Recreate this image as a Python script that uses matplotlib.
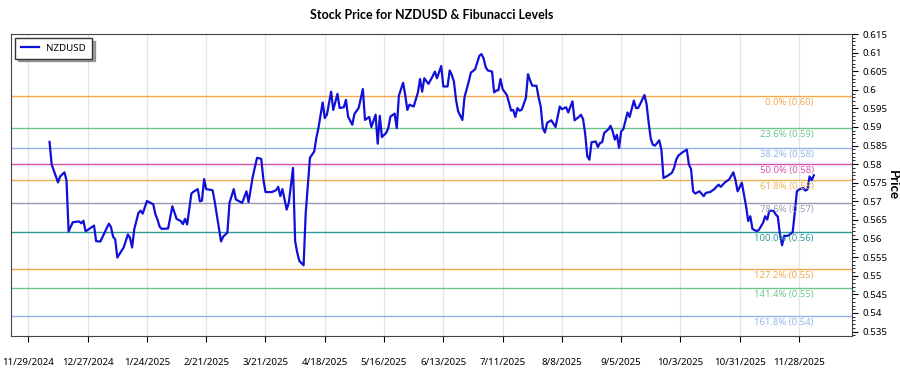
import matplotlib
matplotlib.use("Agg")
import matplotlib.pyplot as plt
from matplotlib.ticker import MultipleLocator, FormatStrFormatter
import pandas as pd

plt.rcParams["font.family"] = "Noto Sans"

# ── data ────────────────────────────────────────────────────
dates = [
    "2024-12-09", "2024-12-10", "2024-12-13", "2024-12-14", "2024-12-16", "2024-12-17",
    "2024-12-18", "2024-12-19", "2024-12-20", "2024-12-23", "2024-12-24", "2024-12-25",
    "2024-12-26", "2024-12-27", "2024-12-30", "2024-12-31", "2025-01-02", "2025-01-06",
    "2025-01-07", "2025-01-08", "2025-01-09", "2025-01-10", "2025-01-13", "2025-01-15",
    "2025-01-16", "2025-01-17", "2025-01-18", "2025-01-20", "2025-01-21", "2025-01-22",
    "2025-01-24", "2025-01-25", "2025-01-27", "2025-01-28", "2025-01-29", "2025-01-30",
    "2025-01-31", "2025-02-03", "2025-02-05", "2025-02-07", "2025-02-09", "2025-02-10",
    "2025-02-11", "2025-02-12", "2025-02-14", "2025-02-15", "2025-02-17", "2025-02-18",
    "2025-02-19", "2025-02-20", "2025-02-21", "2025-02-24", "2025-02-25", "2025-02-28",
    "2025-03-01", "2025-03-03", "2025-03-04", "2025-03-06", "2025-03-07", "2025-03-10",
    "2025-03-12", "2025-03-13", "2025-03-15", "2025-03-17", "2025-03-18", "2025-03-19",
    "2025-03-20", "2025-03-21", "2025-03-24", "2025-03-26", "2025-03-27", "2025-03-28",
    "2025-03-29", "2025-03-30", "2025-03-31", "2025-04-01", "2025-04-03", "2025-04-04",
    "2025-04-05", "2025-04-06", "2025-04-08", "2025-04-09", "2025-04-11", "2025-04-13",
    "2025-04-14", "2025-04-15", "2025-04-17", "2025-04-18", "2025-04-19", "2025-04-21",
    "2025-04-22", "2025-04-24", "2025-04-25", "2025-04-27", "2025-04-28", "2025-04-29",
    "2025-05-01", "2025-05-02", "2025-05-04", "2025-05-06", "2025-05-07", "2025-05-09",
    "2025-05-10", "2025-05-12", "2025-05-13", "2025-05-14", "2025-05-15", "2025-05-17",
    "2025-05-18", "2025-05-19", "2025-05-21", "2025-05-22", "2025-05-23", "2025-05-25",
    "2025-05-26", "2025-05-27", "2025-05-28", "2025-05-30", "2025-06-01", "2025-06-02",
    "2025-06-03", "2025-06-04", "2025-06-06", "2025-06-08", "2025-06-09", "2025-06-10",
    "2025-06-12", "2025-06-13", "2025-06-15", "2025-06-16", "2025-06-17", "2025-06-18",
    "2025-06-19", "2025-06-20", "2025-06-22", "2025-06-23", "2025-06-25", "2025-06-26",
    "2025-06-28", "2025-06-30", "2025-07-01", "2025-07-02", "2025-07-03", "2025-07-04",
    "2025-07-06", "2025-07-07", "2025-07-08", "2025-07-09", "2025-07-10", "2025-07-11",
    "2025-07-13", "2025-07-14", "2025-07-15", "2025-07-16", "2025-07-17", "2025-07-18",
    "2025-07-19", "2025-07-20", "2025-07-22", "2025-07-23", "2025-07-24", "2025-07-25",
    "2025-07-27", "2025-07-28", "2025-07-29", "2025-07-30", "2025-07-31", "2025-08-01",
    "2025-08-03", "2025-08-05", "2025-08-07", "2025-08-08", "2025-08-10", "2025-08-11",
    "2025-08-13", "2025-08-14", "2025-08-16", "2025-08-17", "2025-08-18", "2025-08-19",
    "2025-08-20", "2025-08-21", "2025-08-22", "2025-08-24", "2025-08-25", "2025-08-26",
    "2025-08-27", "2025-08-28", "2025-08-30", "2025-08-31", "2025-09-01", "2025-09-02",
    "2025-09-03", "2025-09-04", "2025-09-05", "2025-09-06", "2025-09-08", "2025-09-09",
    "2025-09-11", "2025-09-12", "2025-09-13", "2025-09-14", "2025-09-16", "2025-09-17",
    "2025-09-18", "2025-09-19", "2025-09-20", "2025-09-21", "2025-09-23", "2025-09-24",
    "2025-09-25", "2025-09-27", "2025-09-29", "2025-09-30", "2025-10-01", "2025-10-02",
    "2025-10-04", "2025-10-06", "2025-10-07", "2025-10-08", "2025-10-09", "2025-10-10",
    "2025-10-12", "2025-10-14", "2025-10-15", "2025-10-17", "2025-10-19", "2025-10-21",
    "2025-10-22", "2025-10-24", "2025-10-26", "2025-10-28", "2025-10-29", "2025-10-30",
    "2025-11-01", "2025-11-02", "2025-11-03", "2025-11-04", "2025-11-05", "2025-11-06",
    "2025-11-08", "2025-11-09", "2025-11-11", "2025-11-12", "2025-11-13", "2025-11-14",
    "2025-11-16", "2025-11-17", "2025-11-18", "2025-11-19", "2025-11-20", "2025-11-21",
    "2025-11-22", "2025-11-23", "2025-11-25", "2025-11-26", "2025-11-27", "2025-11-28",
    "2025-11-30", "2025-12-01", "2025-12-02", "2025-12-03", "2025-12-04", "2025-12-05",
]
prices = [
    0.5860, 0.5799, 0.5751, 0.5767, 0.5778, 0.5757,
    0.5619, 0.5632, 0.5644, 0.5646, 0.5641, 0.5648,
    0.5620, 0.5623, 0.5635, 0.5593, 0.5592, 0.5640,
    0.5631, 0.5605, 0.5598, 0.5549, 0.5576, 0.5611,
    0.5602, 0.5576, 0.5625, 0.5669, 0.5675, 0.5667,
    0.5701, 0.5698, 0.5692, 0.5665, 0.5651, 0.5632,
    0.5626, 0.5627, 0.5687, 0.5653, 0.5647, 0.5639,
    0.5653, 0.5638, 0.5721, 0.5726, 0.5733, 0.5700,
    0.5702, 0.5760, 0.5733, 0.5730, 0.5700, 0.5592,
    0.5605, 0.5616, 0.5696, 0.5733, 0.5705, 0.5696,
    0.5727, 0.5698, 0.5767, 0.5817, 0.5816, 0.5814,
    0.5759, 0.5725, 0.5725, 0.5730, 0.5739, 0.5714,
    0.5733, 0.5705, 0.5678, 0.5696, 0.5790, 0.5593,
    0.5562, 0.5540, 0.5528, 0.5669, 0.5817, 0.5834,
    0.5870, 0.5897, 0.5966, 0.5924, 0.5933, 0.5995,
    0.5946, 0.5989, 0.5951, 0.5953, 0.5973, 0.5928,
    0.5906, 0.5935, 0.5951, 0.6002, 0.5919, 0.5927,
    0.5900, 0.5933, 0.5855, 0.5930, 0.5873, 0.5884,
    0.5897, 0.5928, 0.5936, 0.5897, 0.5984, 0.6019,
    0.5986, 0.5946, 0.5960, 0.5955, 0.5993, 0.6029,
    0.5995, 0.6031, 0.6016, 0.6037, 0.6049, 0.6031,
    0.6064, 0.6009, 0.6009, 0.6052, 0.6040, 0.6022,
    0.5973, 0.5942, 0.5919, 0.5980, 0.6022, 0.6046,
    0.6055, 0.6091, 0.6096, 0.6085, 0.6061, 0.6052,
    0.6049, 0.5993, 0.5998, 0.5999, 0.6029, 0.6002,
    0.5986, 0.5966, 0.5944, 0.5946, 0.5927, 0.5951,
    0.5944, 0.5946, 0.5978, 0.6042, 0.6025, 0.6011,
    0.6011, 0.5980, 0.5955, 0.5897, 0.5885, 0.5911,
    0.5918, 0.5900, 0.5955, 0.5948, 0.5953, 0.5939,
    0.5969, 0.5918, 0.5927, 0.5933, 0.5921, 0.5882,
    0.5821, 0.5812, 0.5859, 0.5861, 0.5846, 0.5857,
    0.5859, 0.5884, 0.5894, 0.5903, 0.5888, 0.5866,
    0.5879, 0.5844, 0.5888, 0.5894, 0.5939, 0.5927,
    0.5971, 0.5951, 0.5951, 0.5962, 0.5986, 0.5962,
    0.5911, 0.5868, 0.5852, 0.5850, 0.5864, 0.5839,
    0.5763, 0.5769, 0.5777, 0.5790, 0.5812, 0.5823,
    0.5832, 0.5839, 0.5799, 0.5787, 0.5727, 0.5721,
    0.5727, 0.5714, 0.5723, 0.5725, 0.5733, 0.5745,
    0.5739, 0.5751, 0.5759, 0.5778, 0.5757, 0.5727,
    0.5750, 0.5718, 0.5687, 0.5647, 0.5660, 0.5626,
    0.5620, 0.5623, 0.5642, 0.5660, 0.5651, 0.5675,
    0.5674, 0.5665, 0.5659, 0.5611, 0.5582, 0.5607,
    0.5607, 0.5608, 0.5617, 0.5669, 0.5727, 0.5732,
    0.5736, 0.5729, 0.5732, 0.5767, 0.5757, 0.5770,
]

fib_high = 0.5983
fib_low = 0.5618
fib_ratios = [0.0, 0.236, 0.382, 0.5, 0.618, 0.786, 1.0, 1.272, 1.414, 1.618]
fib_colors = ["#f5a64a", "#6cc48c", "#8fb4ec", "#d64fb0", "#e8b04e",
              "#9a98b0", "#2a9a9a", "#f5a64a", "#6cc48c", "#8fb4ec"]

tick_labels = ["11/29/2024", "12/27/2024", "1/24/2025", "2/21/2025", "3/21/2025",
               "4/18/2025", "5/16/2025", "6/13/2025", "7/11/2025", "8/8/2025",
               "9/5/2025", "10/3/2025", "10/31/2025", "11/28/2025"]

# ── plot ────────────────────────────────────────────────────
x = pd.to_datetime(dates)
ticks = pd.to_datetime(tick_labels, format="%m/%d/%Y")
bold_font = "Lato"

fig = plt.figure(figsize=(9, 3.75), dpi=100)
ax = fig.add_axes([0.0126, 0.104, 0.9341, 0.8053])

ax.plot(x, prices, color="#1010d8", lw=1.6, label="NZDUSD", zorder=3)

span = fib_high - fib_low
for r, c in zip(fib_ratios, fib_colors):
    lvl = fib_high - r * span
    ax.axhline(lvl, color=c, lw=1.0, zorder=2)
    ax.text(x[-1], lvl - 0.0006, f"{r*100:.1f}% ({lvl:.2f})",
            ha="right", va="top", color=c, fontsize=6.8,
            family="Open Sans", zorder=4)

ax.set_ylim(0.5338, 0.615)
ax.yaxis.tick_right()
ax.yaxis.set_label_position("right")
ax.yaxis.set_major_locator(MultipleLocator(0.005))
ax.yaxis.set_minor_locator(MultipleLocator(0.001))
ax.yaxis.set_major_formatter(FormatStrFormatter("%g"))
ax.set_ylabel("Price", rotation=270, fontsize=9.5, fontweight="bold",
              family=bold_font, labelpad=8)

ax.set_xticks(ticks)
ax.set_xticklabels(tick_labels)
ax.tick_params(axis="x", labelsize=7, pad=12, length=4)
ax.tick_params(axis="y", which="major", labelsize=7, length=4)
ax.tick_params(axis="y", which="minor", length=2)
ax.grid(axis="x", color="#e4e4e4", lw=0.9)
ax.set_axisbelow(True)

for s in ax.spines.values():
    s.set_color("#444444")

ax.set_title("Stock Price for NZDUSD & Fibunacci Levels", fontsize=9,
             fontweight="bold", family=bold_font, pad=11)
leg = ax.legend(loc="upper left", fontsize=7, fancybox=False, shadow=True,
                edgecolor="#333333", borderpad=0.6, handlelength=1.8,
                borderaxespad=0.4)

plt.savefig("out.png", dpi=100)
plt.close()
